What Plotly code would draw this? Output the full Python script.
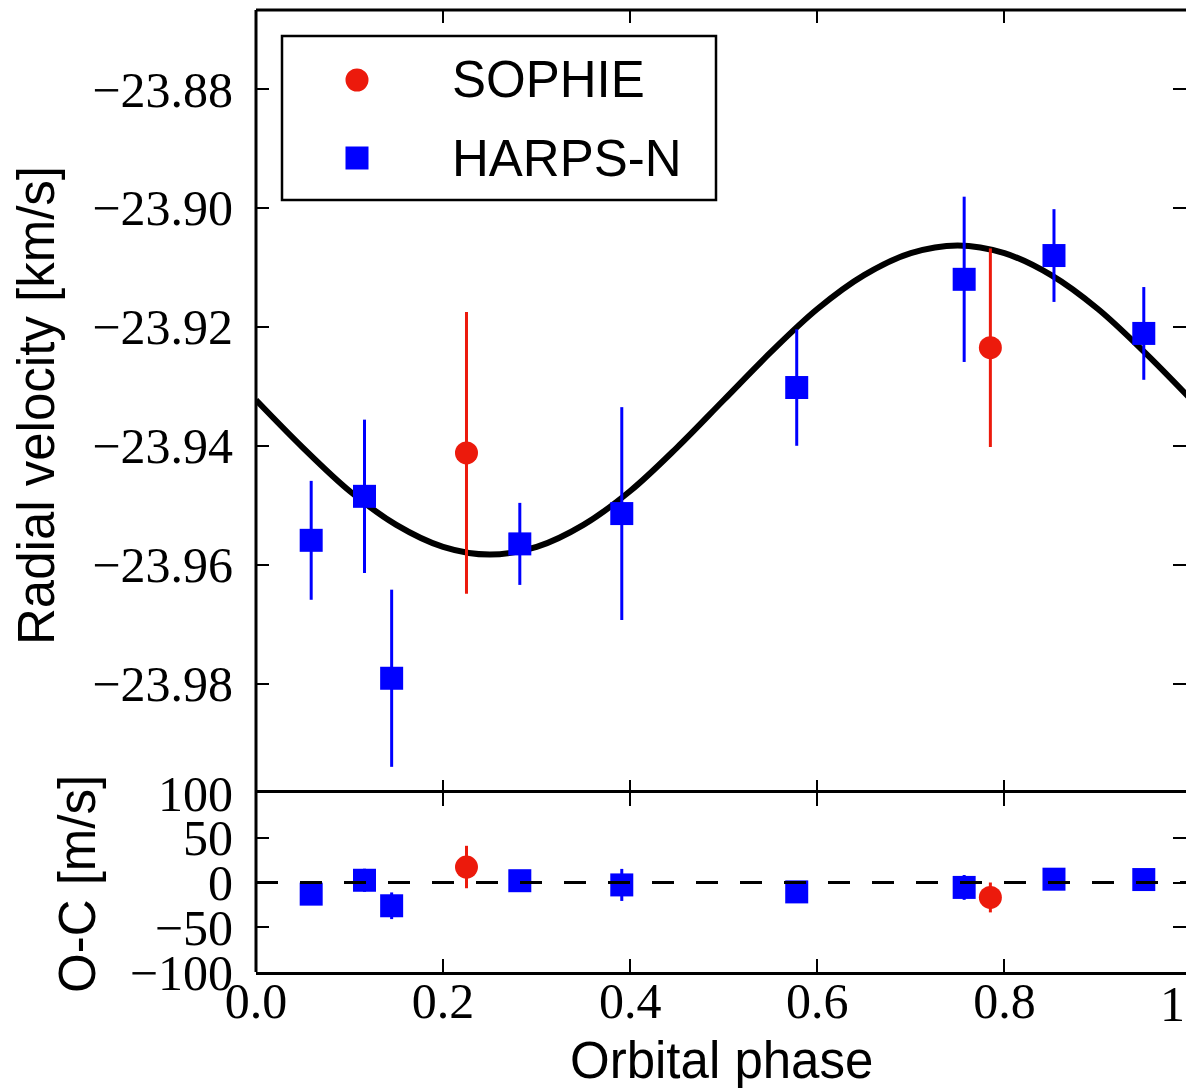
import plotly.graph_objects as go

# ---------------- data ----------------
phase_harps = [0.059, 0.116, 0.145, 0.282, 0.391, 0.578, 0.757, 0.853, 0.949]
rv_harps = [-23.9559, -23.9485, -23.9791, -23.9565, -23.9514, -23.9302, -23.9120, -23.9080, -23.9211]
err_harps = [0.0100, 0.0129, 0.0149, 0.0069, 0.0179, 0.0098, 0.0139, 0.0078, 0.0078]

phase_sophie = [0.225, 0.785]
rv_sophie = [-23.9412, -23.9235]
err_sophie = [0.0237, 0.0167]

oc_harps = [-13.0, 2.5, -26.0, 2.0, -2.7, -10.5, -5.5, 3.7, 3.3]
oc_err_harps = [10.0, 12.9, 14.9, 6.9, 17.9, 9.8, 13.9, 7.8, 7.8]
oc_sophie = [17.3, -16.7]
oc_err_sophie = [23.7, 16.7]

model_phase = [0.00, 0.05, 0.10, 0.15, 0.20, 0.25, 0.30, 0.35, 0.40, 0.45, 0.50,
               0.55, 0.60, 0.65, 0.70, 0.75, 0.80, 0.85, 0.90, 0.95, 1.00]
model_rv = [-23.9323, -23.9403, -23.9476, -23.9533, -23.9570, -23.9583, -23.9570,
            -23.9533, -23.9476, -23.9403, -23.9323, -23.9243, -23.9170, -23.9113,
            -23.9076, -23.9063, -23.9076, -23.9113, -23.9170, -23.9243, -23.9323]

zero_x = [0.0, 1.0]
zero_y = [0.0, 0.0]

rv_tickvals = [-23.98, -23.96, -23.94, -23.92, -23.90, -23.88]
rv_ticktext = ["\u221223.98", "\u221223.96", "\u221223.94", "\u221223.92", "\u221223.90", "\u221223.88"]
oc_tickvals = [-100, -50, 0, 50, 100]
oc_ticktext = ["\u2212100", "\u221250", "0", "50", "100"]
phase_tickvals = [0.0, 0.2, 0.4, 0.6, 0.8]
phase_ticktext = ["0.0", "0.2", "0.4", "0.6", "0.8"]
series_names = ["SOPHIE", "HARPS-N"]

# ---------------- styling ----------------
RED = "rgb(236,26,12)"
BLUE = "rgb(0,0,255)"
SERIF = "Liberation Serif"
SANS = "Liberation Sans"
W, H = 1186, 1088
ML, MT, MB = 256, 10, 116
PW, PH = W - ML, H - MT - MB
XMAX = PW / 935.5
SPLIT = (972 - 793) / PH

def px(x):
    return (x - ML) / PW

def py(y):
    return (H - MB - y) / PH

fig = go.Figure()

fig.add_trace(go.Scatter(x=model_phase, y=model_rv, mode="lines",
                         line=dict(color="black", width=6, shape="spline", smoothing=1.0),
                         xaxis="x", yaxis="y", showlegend=False, hoverinfo="skip"))

fig.add_trace(go.Scatter(x=phase_sophie, y=rv_sophie, mode="markers", name=series_names[0],
                         marker=dict(symbol="circle", size=23, color=RED, line=dict(width=0)),
                         error_y=dict(type="data", array=err_sophie, visible=True,
                                      color=RED, thickness=3, width=0),
                         xaxis="x", yaxis="y", showlegend=False))
fig.add_trace(go.Scatter(x=phase_harps, y=rv_harps, mode="markers", name=series_names[1],
                         marker=dict(symbol="square", size=23, color=BLUE, line=dict(width=0)),
                         error_y=dict(type="data", array=err_harps, visible=True,
                                      color=BLUE, thickness=3, width=0),
                         xaxis="x", yaxis="y", showlegend=False))

fig.add_trace(go.Scatter(x=phase_sophie, y=oc_sophie, mode="markers", name=series_names[0],
                         marker=dict(symbol="circle", size=23, color=RED, line=dict(width=0)),
                         error_y=dict(type="data", array=oc_err_sophie, visible=True,
                                      color=RED, thickness=3, width=0),
                         xaxis="x2", yaxis="y2", showlegend=False))
fig.add_trace(go.Scatter(x=phase_harps, y=oc_harps, mode="markers", name=series_names[1],
                         marker=dict(symbol="square", size=23, color=BLUE, line=dict(width=0)),
                         error_y=dict(type="data", array=oc_err_harps, visible=True,
                                      color=BLUE, thickness=3, width=0),
                         xaxis="x2", yaxis="y2", showlegend=False))
fig.add_trace(go.Scatter(x=zero_x, y=zero_y, mode="lines",
                         line=dict(color="black", width=3, dash="22px,22px"),
                         xaxis="x2", yaxis="y2", showlegend=False, hoverinfo="skip"))

common_x = dict(range=[0, XMAX], tickvals=phase_tickvals, ticks="inside", ticklen=13,
                tickwidth=2, tickcolor="black", linewidth=3, linecolor="black",
                mirror="ticks", showgrid=False, zeroline=False, automargin=False)
common_y = dict(ticks="inside", ticklen=13, tickwidth=2, tickcolor="black",
                showline=False, mirror="ticks", showgrid=False, zeroline=False, automargin=False,
                tickfont=dict(family=SERIF, size=50, color="black"), ticklabelstandoff=22)

fig.update_layout(
    template="none",
    width=W, height=H,
    margin=dict(l=ML, r=0, t=MT, b=MB, pad=0, autoexpand=False),
    paper_bgcolor="white", plot_bgcolor="white",
    showlegend=False,
    xaxis=dict(domain=[0, 1], anchor="y", showticklabels=False, showline=False, **common_x),
    yaxis=dict(domain=[SPLIT, 1], anchor="x",
               range=[-23.9984, -23.8667], tickvals=rv_tickvals, ticktext=rv_ticktext, **common_y),
    xaxis2=dict(domain=[0, 1], anchor="y2", ticktext=phase_ticktext, showline=True,
                tickfont=dict(family=SERIF, size=50, color="black"), ticklabelstandoff=-17,
                **common_x),
    yaxis2=dict(domain=[0, SPLIT], anchor="x2", range=[-100, 100],
                tickvals=oc_tickvals, ticktext=oc_ticktext, **common_y),
)

shapes = [
    # left spine and top spine
    dict(type="line", xref="paper", yref="paper", x0=0, x1=0, y0=0, y1=1,
         line=dict(color="black", width=3)),
    dict(type="line", xref="paper", yref="paper", x0=0, x1=1, y0=1, y1=1,
         line=dict(color="black", width=3)),
    # legend box
    dict(type="rect", xref="paper", yref="paper", x0=px(282), x1=px(716), y0=py(200), y1=py(36),
         line=dict(color="black", width=2.5), fillcolor="white", layer="above"),
    dict(type="circle", xref="paper", yref="paper", xsizemode="pixel", ysizemode="pixel",
         xanchor=px(357), yanchor=py(80), x0=-11.5, x1=11.5, y0=-11.5, y1=11.5,
         fillcolor=RED, line=dict(width=0), layer="above"),
    dict(type="rect", xref="paper", yref="paper", xsizemode="pixel", ysizemode="pixel",
         xanchor=px(357), yanchor=py(158), x0=-11.5, x1=11.5, y0=-11.5, y1=11.5,
         fillcolor=BLUE, line=dict(width=0), layer="above"),
]
fig.update_layout(shapes=shapes)

annotations = [
    dict(text=series_names[0], xref="paper", yref="paper", x=px(450), y=py(80),
         xanchor="left", yanchor="middle", showarrow=False,
         font=dict(family=SANS, size=51, color="black")),
    dict(text=series_names[1], xref="paper", yref="paper", x=px(450), y=py(158),
         xanchor="left", yanchor="middle", showarrow=False,
         font=dict(family=SANS, size=51, color="black")),
    dict(text="Radial velocity [km/s]", xref="paper", yref="paper", x=px(36), y=py(406),
         xanchor="center", yanchor="middle", textangle=-90, showarrow=False,
         font=dict(family=SANS, size=51, color="black")),
    dict(text="O-C [m/s]", xref="paper", yref="paper", x=px(77), y=py(884),
         xanchor="center", yanchor="middle", textangle=-90, showarrow=False,
         font=dict(family=SANS, size=51, color="black")),
    dict(text="Orbital phase", xref="paper", yref="paper", x=px(721), y=py(1060),
         xanchor="center", yanchor="middle", showarrow=False,
         font=dict(family=SANS, size=51, color="black")),
    dict(text="1.0", xref="paper", yref="paper", x=1.0 / XMAX, y=py(1004),
         xanchor="center", yanchor="middle", showarrow=False,
         font=dict(family=SERIF, size=50, color="black")),
]
fig.update_layout(annotations=annotations)

fig.write_html("out.html")
